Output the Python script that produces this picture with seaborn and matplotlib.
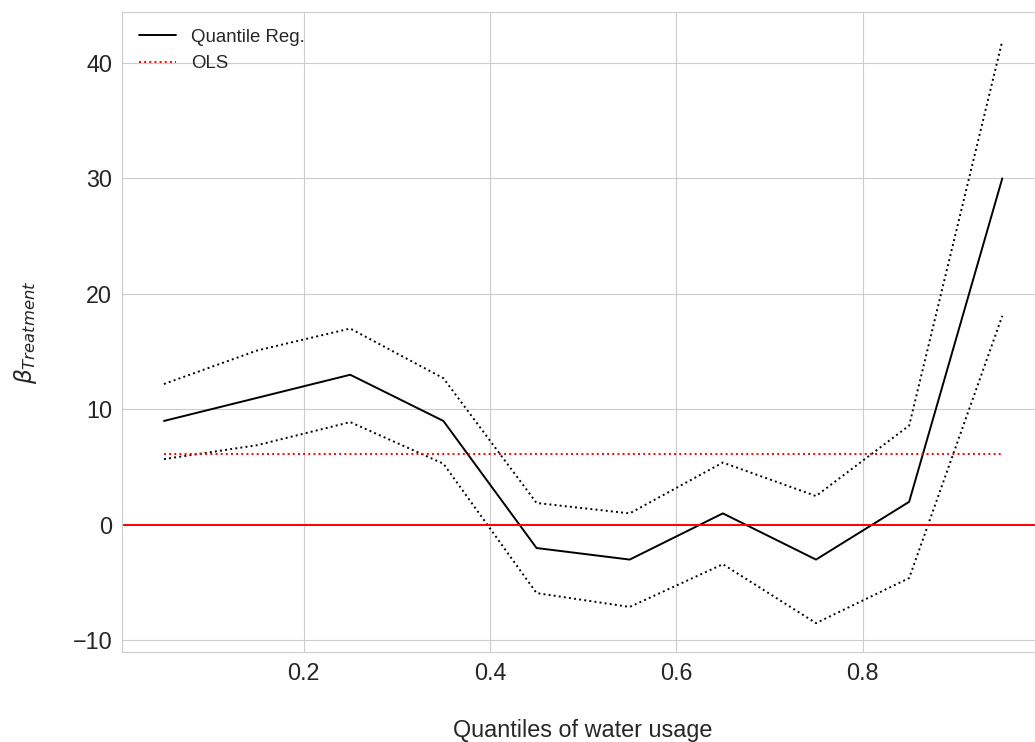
import numpy as np
import pandas as pd
import matplotlib
matplotlib.use("Agg")
import matplotlib.pyplot as plt
import seaborn as sns

# values
quantiles = [0.05, 0.15, 0.25, 0.35, 0.45, 0.55, 0.65, 0.75, 0.85, 0.95]
qr_coef = [9.0, 11.0, 13.0, 9.0, -2.0, -3.0, 1.0, -3.0, 2.0, 30.0]
qr_upper = [12.2, 15.1, 17.0, 12.7, 1.9, 1.0, 5.4, 2.5, 8.6, 41.9]
qr_lower = [5.7, 6.9, 8.9, 5.3, -5.9, -7.1, -3.4, -8.5, -4.6, 18.1]
ols_coef = 6.1

df = pd.DataFrame({"q": quantiles, "coef": qr_coef, "ub": qr_upper, "lb": qr_lower})
df["ols"] = ols_coef

sns.set_style("whitegrid")
plt.rcParams['font.family'] = ['Liberation Sans', 'DejaVu Sans']
plt.rcParams['mathtext.fontset'] = 'dejavusans'

fig = plt.figure(figsize=(10.35, 7.42), dpi=100)
ax = fig.add_axes([0.1179, 0.1213, 0.891, 0.8625])

sns.lineplot(data=df, x="q", y="coef", color="black", lw=1.4, label="Quantile Reg.", ax=ax)
sns.lineplot(data=df, x="q", y="ub", color="black", lw=1.4, ls=":", ax=ax)
sns.lineplot(data=df, x="q", y="lb", color="black", lw=1.4, ls=":", ax=ax)
sns.lineplot(data=df, x="q", y="ols", color="red", lw=1.4, ls=":", label="OLS", ax=ax)
ax.axhline(0, color="red", lw=1.4)

ax.set_xlim(0.005, 0.995)
ax.set_ylim(-11.0, 44.4)
ax.set_xticks([0.2, 0.4, 0.6, 0.8])
ax.set_yticks([-10, 0, 10, 20, 30, 40])
ax.tick_params(labelsize=16.8, colors=".15")
ax.set_xlabel("Quantiles of water usage", fontsize=16.8, labelpad=25, color=".15")
ax.set_ylabel(r"$\beta_{Treatment}$", fontsize=16.8, labelpad=24, color=".15")

leg = ax.legend(loc="upper left", frameon=False, fontsize=13.4)
for t in leg.get_texts():
    t.set_color(".15")

fig.savefig("out.png", dpi=100)
